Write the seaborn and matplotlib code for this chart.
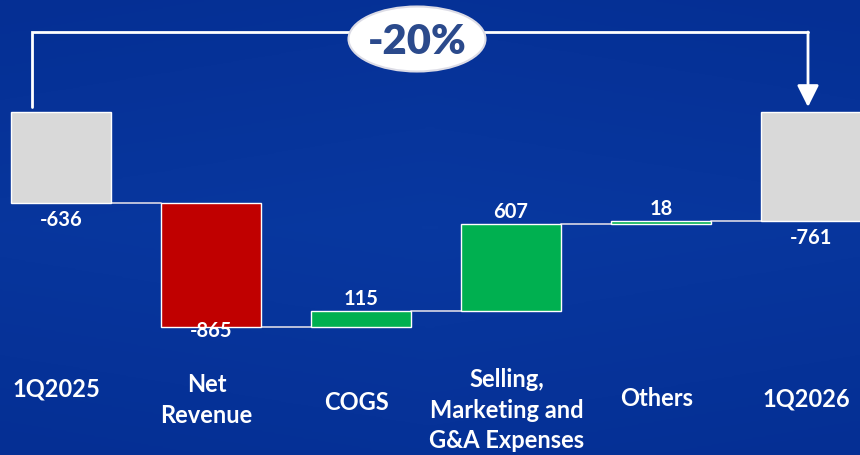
import numpy as np
import matplotlib
matplotlib.use("Agg")
import matplotlib.pyplot as plt
from matplotlib.patches import Ellipse
import seaborn as sns

categories = ["1Q2025", "Net\nRevenue", "COGS", "Selling,\nMarketing and\nG&A Expenses", "Others", "1Q2026"]
values = [-636, -865, 115, 607, 18, -761]
kinds = ["total", "delta", "delta", "delta", "delta", "total"]
change_label = "-20%"

sns.set_theme(style="white")
plt.rcParams["font.family"] = ["Lato", "DejaVu Sans"]

# waterfall geometry from the values
bottoms, heights, ends = [], [], []
running = 0
for v, k in zip(values, kinds):
    if k == "total":
        bottoms.append(0)
        heights.append(v)
        running = v
    else:
        bottoms.append(running)
        heights.append(v)
        running += v
    ends.append(running)

colors = []
for v, k in zip(values, kinds):
    if k == "total":
        colors.append("#d9d9d9")
    elif v < 0:
        colors.append("#c00000")
    else:
        colors.append("#00b050")

fig = plt.figure(figsize=(8.6, 4.55), dpi=100)

# background gradient
bg = fig.add_axes([0, 0, 1, 1], zorder=0)
yy, xx = np.mgrid[0:1:200j, 0:1:400j]
grad = 0.6 * (1 - np.abs(yy - 0.5) * 1.6) + 0.3 * (1 - np.abs(xx - 0.5))
cmap = matplotlib.colors.LinearSegmentedColormap.from_list("bg", ["#052f94", "#0838a0"])
bg.imshow(grad, cmap=cmap, aspect="auto", extent=[0, 1, 0, 1])
bg.axis("off")

ax = fig.add_axes([0, 0, 1, 1], zorder=1)
ax.patch.set_alpha(0)
x = np.arange(len(categories))
sns.barplot(x=x, y=heights, bottom=bottoms, color="#d9d9d9", width=0.667,
            edgecolor="white", linewidth=1, ax=ax, native_scale=True)
for p, c in zip(ax.patches, colors):
    p.set_facecolor(c)

# connectors
for i in range(len(values) - 1):
    ax.plot([i + 0.333, i + 1 - 0.333], [ends[i], ends[i]], color="#c8cbe0", lw=1.3, zorder=0.5)

# value labels
px = 1 / 0.1434
for i, (v, k) in enumerate(zip(values, kinds)):
    if k == "total":
        y = v - 17 * px
    elif v < 0:
        y = ends[i] - 4 * px
    else:
        y = ends[i] + 12 * px
    ax.text(i, y, f"{v}", ha="center", va="center", color="white",
            fontsize=14.5, fontweight="bold", zorder=5)

# category labels
label_y = [389, 400, 403, 410, 399, 399]
for i, (c, ly) in enumerate(zip(categories, label_y)):
    ax.text(i - 0.03, (112 - ly) * px, c, ha="center", va="center", color="white",
            fontsize=17, fontweight="bold", linespacing=1.42)

# bracket with arrow
xl, xr = (32 - 61) / 150, (808 - 61) / 150
ytop, ybot = (112 - 32) * px, (112 - 107) * px
ax.plot([xl, xl, xr], [ybot, ytop, ytop], color="white", lw=2, solid_joinstyle="miter")
ax.annotate("", xy=(xr, ybot), xytext=(xr, ytop),
            arrowprops=dict(arrowstyle="-|>,head_length=1.1,head_width=0.55", color="white", lw=2,
                            shrinkA=0, shrinkB=0))
ell = Ellipse(((417 - 61) / 150, (112 - 39) * px), 137 / 150, 65 * px,
              facecolor="white", edgecolor="#dcdce6", lw=1.5, zorder=6)
ax.add_patch(ell)
ax.text((417 - 61) / 150, (112 - 42) * px, change_label, ha="center", va="center",
        color="#2b4a8c", fontsize=30, fontweight="heavy", zorder=7)

ax.set_xlim(-61 / 150, (860 - 61) / 150)
ax.set_ylim(-(455 - 112) * px, 112 * px)
ax.axis("off")

fig.savefig("out.png", dpi=100)
